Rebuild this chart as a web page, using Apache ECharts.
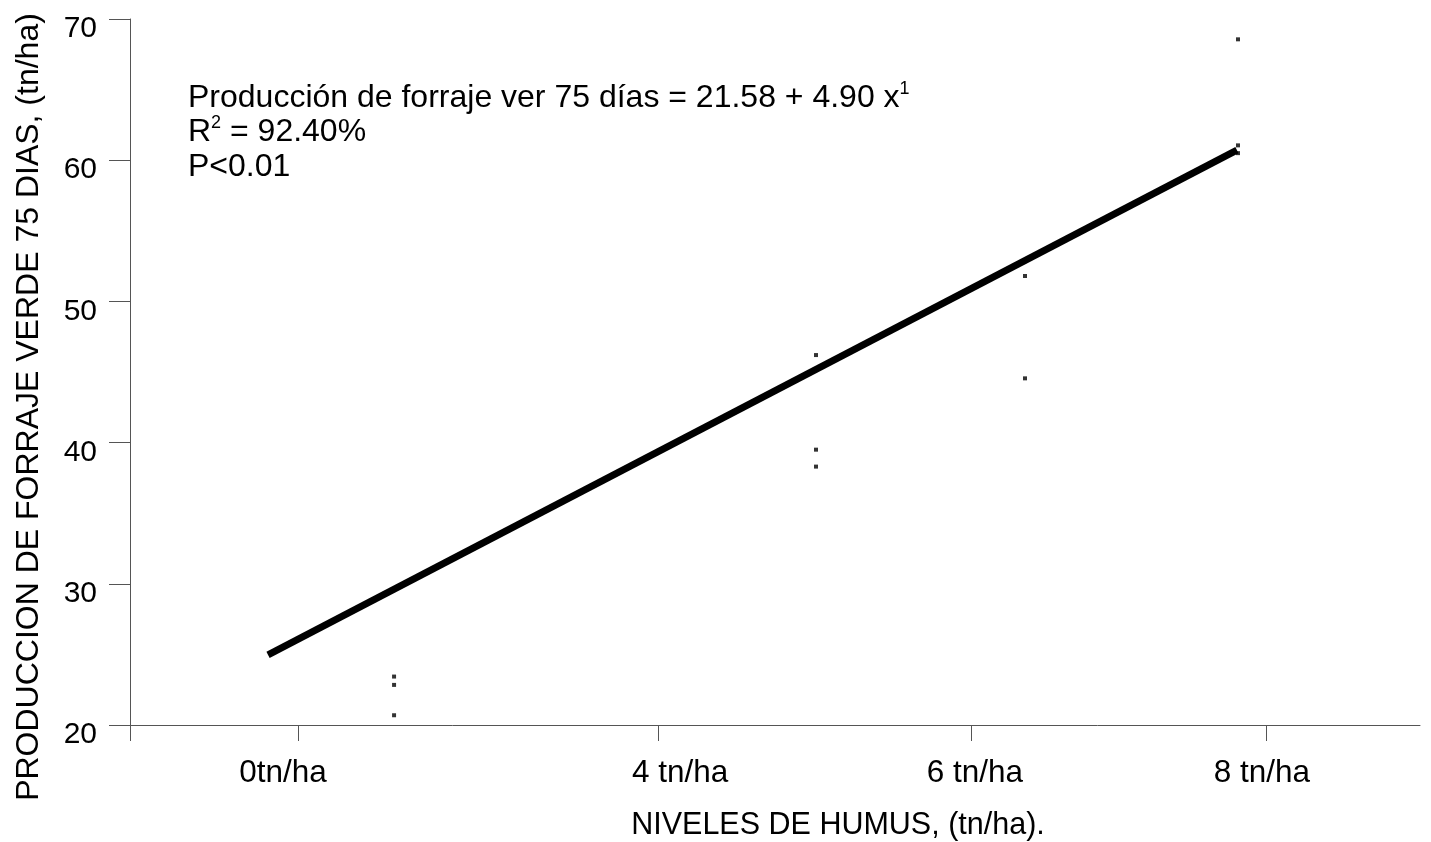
<!DOCTYPE html>
<html>
<head>
<meta charset="utf-8">
<script src="https://cdn.jsdelivr.net/npm/echarts@6/dist/echarts.min.js"></script>
<style>
html,body{margin:0;padding:0;background:#fff;}
#chart{width:1431px;height:842px;}
</style>
</head>
<body>
<div id="chart"></div>
<script>
// Y axis (tn/ha)
const yMin = 20, yMax = 70, yStep = 10;
// X axis: abstract position scale 0..100 along the axis
const xTickPositions = [0, 13.02, 40.93, 65.19, 88.06];
const xLabelPositions = [11.86, 42.64, 65.50, 87.75];
const xTickLabels = ['0tn/ha', '4 tn/ha', '6 tn/ha', '8 tn/ha'];
// Observed points
const pointX = [20.47, 20.47, 20.47, 53.18, 53.18, 53.18, 69.38, 69.38, 85.89, 85.89, 85.89];
const pointY = [23.43, 22.84, 20.69, 46.2, 39.5, 38.3, 51.8, 44.55, 68.56, 61.05, 60.5];
// Fitted line
const fitX = [10.70, 85.81];
const fitY = [24.96, 60.72];

const FONT = "'Liberation Sans', Arial, sans-serif";
const axisColor = '#555';

const chart = echarts.init(document.getElementById('chart'), null, {renderer: 'canvas'});
chart.setOption({
  backgroundColor: '#fff',
  animation: false,
  grid: {left: 130, right: 11, top: 19, bottom: 117, containLabel: false},
  xAxis: {
    type: 'value', min: 0, max: 100,
    axisLine: {show: true, onZero: false, lineStyle: {color: axisColor, width: 1}},
    axisTick: {show: true, length: 16, customValues: xTickPositions, lineStyle: {color: axisColor, width: 1}},
    axisLabel: {
      show: true, customValues: xLabelPositions, margin: 32,
      fontFamily: FONT, fontSize: 31.5, color: '#000',
      formatter: function (v) {
        let best = 0, d = Infinity;
        xLabelPositions.forEach((p, i) => { if (Math.abs(p - v) < d) { d = Math.abs(p - v); best = i; } });
        return xTickLabels[best];
      }
    },
    splitLine: {show: false}
  },
  yAxis: {
    type: 'value', min: yMin, max: yMax, interval: yStep,
    axisLine: {show: true, onZero: false, lineStyle: {color: axisColor, width: 1}},
    axisTick: {show: true, length: 21, lineStyle: {color: axisColor, width: 1}},
    axisLabel: {show: true, margin: 33, fontFamily: FONT, fontSize: 30, color: '#000', verticalAlign: 'top', lineHeight: 20},
    splitLine: {show: false}
  },
  series: [
    {
      type: 'line',
      data: fitX.map((x, i) => [x, fitY[i]]),
      showSymbol: false, symbol: 'none',
      lineStyle: {color: '#000', width: 7, cap: 'butt'},
      silent: true, z: 2
    },
    {
      type: 'scatter',
      data: pointX.map((x, i) => [x, pointY[i]]),
      symbol: 'rect', symbolSize: [4, 4],
      itemStyle: {color: '#000'},
      silent: true, z: 3
    }
  ],
  graphic: [
    {
      type: 'text', x: 29, y: 407, rotation: Math.PI / 2,
      style: {text: 'PRODUCCION DE FORRAJE VERDE 75 DIAS, (tn/ha)', font: '32px ' + FONT, fill: '#000', align: 'center', verticalAlign: 'middle'}
    },
    {
      type: 'text', x: 838, y: 826,
      style: {text: 'NIVELES DE HUMUS, (tn/ha).', font: '30.5px ' + FONT, fill: '#000', align: 'center', verticalAlign: 'middle'}
    },
    {
      type: 'text', x: 188, y: 98,
      style: {
        text: '{m|Producción de forraje ver 75 días = 21.58 + 4.90 x}{s|1}',
        align: 'left', verticalAlign: 'middle',
        rich: {
          m: {fontFamily: FONT, fontSize: 32, lineHeight: 36, fill: '#000', verticalAlign: 'middle'},
          s: {fontFamily: FONT, fontSize: 18, lineHeight: 18, fill: '#000', verticalAlign: 'top'}
        }
      }
    },
    {
      type: 'text', x: 188, y: 132,
      style: {
        text: '{m|R}{s|2}{m| = 92.40%}',
        align: 'left', verticalAlign: 'middle',
        rich: {
          m: {fontFamily: FONT, fontSize: 32, lineHeight: 36, fill: '#000', verticalAlign: 'middle'},
          s: {fontFamily: FONT, fontSize: 18, lineHeight: 18, fill: '#000', verticalAlign: 'top'}
        }
      }
    },
    {
      type: 'text', x: 188, y: 167,
      style: {text: 'P<0.01', font: '32px ' + FONT, fill: '#000', align: 'left', verticalAlign: 'middle'}
    }
  ]
});
</script>
</body>
</html>
